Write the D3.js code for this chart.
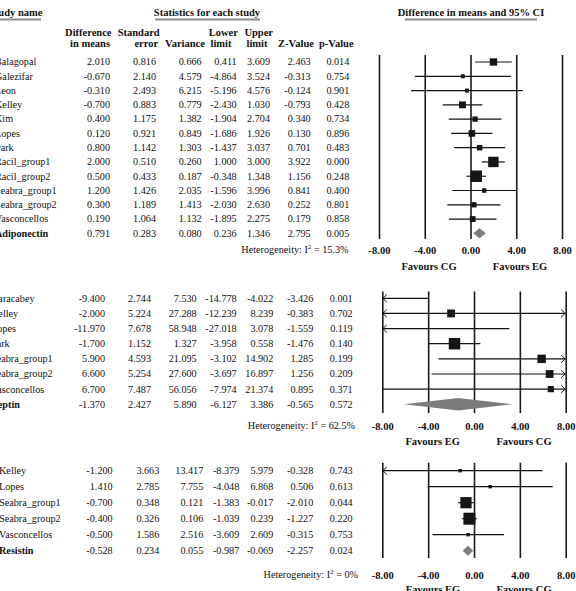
<!DOCTYPE html>
<html><head><meta charset="utf-8">
<script src="https://cdn.jsdelivr.net/npm/d3@7"></script>
<style>body{margin:0;background:#fff}svg{display:block}text{font-family:"Liberation Serif","Times New Roman",serif;fill:#111}</style>
</head><body>
<svg id="c" width="576" height="591"></svg>
<script>
// ---------- DATA ----------
const tickValues = [-8, -4, 0, 4, 8];
const columnHeads = [["Difference", "in means"], ["Standard", "error"], ["", "Variance"], ["Lower", "limit"], ["Upper", "limit"], ["", "Z-Value"], ["", "p-Value"]];

const adipoStudies = ["Balagopal", "Galezifar", "Leon", "Kelley", "Kim", "Lopes", "Park", "Racil_group1", "Racil_group2", "Seabra_group1", "Seabra_group2", "Vasconcellos"];
const adipoDiff  = [2.010, -0.670, -0.310, -0.700, 0.400, 0.120, 0.800, 2.000, 0.500, 1.200, 0.300, 0.190];
const adipoSE    = [0.816, 2.140, 2.493, 0.883, 1.175, 0.921, 1.142, 0.510, 0.433, 1.426, 1.189, 1.064];
const adipoVar   = [0.666, 4.579, 6.215, 0.779, 1.382, 0.849, 1.303, 0.260, 0.187, 2.035, 1.413, 1.132];
const adipoLower = [0.411, -4.864, -5.196, -2.430, -1.904, -1.686, -1.437, 1.000, -0.348, -1.596, -2.030, -1.895];
const adipoUpper = [3.609, 3.524, 4.576, 1.030, 2.704, 1.926, 3.037, 3.000, 1.348, 3.996, 2.630, 2.275];
const adipoZ     = [2.463, -0.313, -0.124, -0.793, 0.340, 0.130, 0.701, 3.922, 1.156, 0.841, 0.252, 0.179];
const adipoP     = [0.014, 0.754, 0.901, 0.428, 0.734, 0.896, 0.483, 0.000, 0.248, 0.400, 0.801, 0.858];
const adipoSummary = ["Adiponectin", 0.791, 0.283, 0.080, 0.236, 1.346, 2.795, 0.005];
const adipoI2 = "15.3%";
const adipoFavours = ["Favours CG", "Favours EG"];

const leptinStudies = ["Karacabey", "Kelley", "Lopes", "Park", "Seabra_group1", "Seabra_group2", "Vasconcellos"];
const leptinDiff  = [-9.400, -2.000, -11.970, -1.700, 5.900, 6.600, 6.700];
const leptinSE    = [2.744, 5.224, 7.678, 1.152, 4.593, 5.254, 7.487];
const leptinVar   = [7.530, 27.288, 58.948, 1.327, 21.095, 27.600, 56.056];
const leptinLower = [-14.778, -12.239, -27.018, -3.958, -3.102, -3.697, -7.974];
const leptinUpper = [-4.022, 8.239, 3.078, 0.558, 14.902, 16.897, 21.374];
const leptinZ     = [-3.426, -0.383, -1.559, -1.476, 1.285, 1.256, 0.895];
const leptinP     = [0.001, 0.702, 0.119, 0.140, 0.199, 0.209, 0.371];
const leptinSummary = ["Leptin", -1.370, 2.427, 5.890, -6.127, 3.386, -0.565, 0.572];
const leptinI2 = "62.5%";
const leptinFavours = ["Favours EG", "Favours CG"];

const resistStudies = ["Kelley", "Lopes", "Seabra_group1", "Seabra_group2", "Vasconcellos"];
const resistDiff  = [-1.200, 1.410, -0.700, -0.400, -0.500];
const resistSE    = [3.663, 2.785, 0.348, 0.326, 1.586];
const resistVar   = [13.417, 7.755, 0.121, 0.106, 2.516];
const resistLower = [-8.379, -4.048, -1.383, -1.039, -3.609];
const resistUpper = [5.979, 6.868, -0.017, 0.239, 2.609];
const resistZ     = [-0.328, 0.506, -2.010, -1.227, -0.315];
const resistP     = [0.743, 0.613, 0.044, 0.220, 0.753];
const resistSummary = ["Resistin", -0.528, 0.234, 0.055, -0.987, -0.069, -2.257, 0.024];
const resistI2 = "0%";
const resistFavours = ["Favours EG", "Favours CG"];

// ---------- DRAWING ----------
const svg = d3.select("#c");
const fmt3 = v => v.toFixed(3);
const fmt2 = v => v.toFixed(2);

// random-effects (DerSimonian-Laird) weights from the variances
function reWeights(vari, y) {
  const w = vari.map(v => 1 / v);
  const W = d3.sum(w);
  const m = d3.sum(w.map((wi, i) => wi * y[i])) / W;
  const Q = d3.sum(w.map((wi, i) => wi * (y[i] - m) ** 2));
  const C = W - d3.sum(w.map(a => a * a)) / W;
  const tau2 = Math.max(0, (Q - (w.length - 1)) / C);
  return vari.map(v => 1 / (v + tau2));
}

// headers
function header(txt, x, anchor, ulx0, ulx1) {
  svg.append("text").attr("x", x).attr("y", 15.5).attr("text-anchor", anchor)
    .attr("font-size", 10.5).attr("font-weight", "bold").text(txt);
  svg.append("line").attr("x1", ulx0).attr("x2", ulx1).attr("y1", 19.5).attr("y2", 19.5)
    .attr("stroke", "#8a8a8a").attr("stroke-width", 1.8);
}
header("Study name", -11, "start", -11, 41);
header("Statistics for each study", 207, "middle", 155, 260);
header("Difference in means and 95% CI", 471, "middle", 405, 537);

const headCenters = [[88.3, 90], [138.7, 146.3], [185, 185], [223.3, 221], [258.7, 257], [296, 296], [336.3, 336.3]];
columnHeads.forEach((h, j) => {
  h.forEach((t, k) => {
    if (!t) return;
    svg.append("text").attr("x", headCenters[j][k]).attr("y", 33 + k * 11).attr("dy", "0.33em")
      .attr("text-anchor", "middle").attr("font-size", 10.5).attr("font-weight", "bold").text(t);
  });
});

function drawPanel(cfg, d) {
  const n = d.names.length;
  const x = d3.scaleLinear().domain([-8, 8]).range([cfg.x0, cfg.x1]);
  const y = d3.scaleLinear().domain([0, n]).range([cfg.rowTop, cfg.rowTop + n * cfg.step]);
  const w = reWeights(d.vari, d.diff);
  const box = d3.scaleSqrt().domain([0, d3.max(w)]).range([0, cfg.maxBox]);
  const g = svg.append("g");

  // axis with full-height vertical lines
  const axis = d3.axisBottom(x).tickValues(tickValues).tickFormat(fmt2)
    .tickSize(-(cfg.gridBot - cfg.gridTop)).tickPadding(cfg.tickY - cfg.gridBot - 3.8);
  const ax = g.append("g").attr("transform", `translate(0,${cfg.gridBot})`).call(axis);
  ax.select(".domain").remove();
  ax.selectAll(".tick line").attr("stroke", "#1a1a1a").attr("stroke-width", 1.6);
  ax.selectAll(".tick text").attr("font-family", '"Liberation Serif",serif').attr("font-size", 10.5)
    .attr("font-weight", "bold").attr("fill", "#111");

  // columns
  const cols = [d.diff, d.se, d.vari, d.lower, d.upper, d.z, d.p];
  d.names.forEach((nm, i) => {
    g.append("text").attr("x", cfg.nameX).attr("y", y(i)).attr("dy", "0.33em")
      .attr("font-size", 10.2).text(nm);
    cols.forEach((c, j) => {
      g.append("text").attr("x", cfg.cols[j]).attr("y", y(i)).attr("dy", "0.33em")
        .attr("text-anchor", "end").attr("font-size", 10.2).text(fmt3(c[i]));
    });
  });
  // summary row
  g.append("text").attr("x", cfg.nameX).attr("y", y(n)).attr("dy", "0.33em")
    .attr("font-size", 10.2).attr("font-weight", "bold").text(d.summary[0]);
  d.summary.slice(1).forEach((v, j) => {
    g.append("text").attr("x", cfg.cols[j]).attr("y", y(n)).attr("dy", "0.33em")
      .attr("text-anchor", "end").attr("font-size", 10.2).text(fmt3(v));
  });

  // CI lines, arrows, boxes
  d.names.forEach((nm, i) => {
    const yy = y(i);
    const lo = Math.max(d.lower[i], -8), hi = Math.min(d.upper[i], 8);
    g.append("line").attr("x1", x(lo)).attr("x2", x(hi)).attr("y1", yy).attr("y2", yy)
      .attr("stroke", "#111").attr("stroke-width", 1.2);
    if (d.lower[i] < -8) {
      const ax0 = x(-8);
      g.append("path").attr("d", `M${ax0 + 4.5},${yy - 3.8}L${ax0 + 0.6},${yy}L${ax0 + 4.5},${yy + 3.8}`)
        .attr("fill", "none").attr("stroke", "#111").attr("stroke-width", 1);
    }
    if (d.upper[i] > 8) {
      const ax1 = x(8);
      g.append("path").attr("d", `M${ax1 - 4.5},${yy - 3.8}L${ax1 - 0.6},${yy}L${ax1 - 4.5},${yy + 3.8}`)
        .attr("fill", "none").attr("stroke", "#111").attr("stroke-width", 1);
    }
    if (d.diff[i] >= -8 && d.diff[i] <= 8) {
      const s = Math.max(cfg.minBox, box(w[i]));
      g.append("rect").attr("x", x(d.diff[i]) - s / 2).attr("y", yy - s / 2)
        .attr("width", s).attr("height", s).attr("fill", "#151515");
    }
  });

  // summary diamond
  const ys = y(n), h = cfg.diamondH / 2;
  const s = d.summary;
  g.append("path")
    .attr("d", `M${x(s[4])},${ys}L${x(s[1])},${ys - h}L${x(s[5])},${ys}L${x(s[1])},${ys + h}Z`)
    .attr("fill", "#7c7c7c");

  // heterogeneity
  const ht = g.append("text").attr("x", cfg.hetRight).attr("y", cfg.tickY).attr("dy", "0.33em")
    .attr("text-anchor", "end").attr("font-size", 10.2);
  ht.append("tspan").text("Heterogeneity: I");
  ht.append("tspan").attr("dy", -4).attr("font-size", 7).text("2");
  ht.append("tspan").attr("dy", 4).text(" = " + d.i2);

  // favours labels
  d.favours.forEach((t, k) => {
    g.append("text").attr("x", cfg.favX[k]).attr("y", cfg.favY).attr("dy", "0.33em")
      .attr("text-anchor", "middle").attr("font-size", 10.5).attr("font-weight", "bold").text(t);
  });
}

drawPanel({x0: 379, x1: 562, rowTop: 62, step: 14.28, gridTop: 55, gridBot: 239, tickY: 250, favY: 267,
  hetRight: 348.5, nameX: -5, cols: [110, 156, 201.7, 236.7, 270, 310.7, 349.3], favX: [429, 520],
  maxBox: 11.5, minBox: 4, diamondH: 10},
  {names: adipoStudies, diff: adipoDiff, se: adipoSE, vari: adipoVar, lower: adipoLower, upper: adipoUpper,
   z: adipoZ, p: adipoP, summary: adipoSummary, i2: adipoI2, favours: adipoFavours});

drawPanel({x0: 382.3, x1: 565.7, rowTop: 298.3, step: 15.14, gridTop: 291.5, gridBot: 413, tickY: 426, favY: 442,
  hetRight: 355, nameX: -9, cols: [105, 151, 196.7, 236.7, 273.3, 313.3, 352.7], favX: [432.7, 524],
  maxBox: 11.5, minBox: 4, diamondH: 12.5},
  {names: leptinStudies, diff: leptinDiff, se: leptinSE, vari: leptinVar, lower: leptinLower, upper: leptinUpper,
   z: leptinZ, p: leptinP, summary: leptinSummary, i2: leptinI2, favours: leptinFavours});

drawPanel({x0: 382.3, x1: 565.7, rowTop: 470.7, step: 16, gridTop: 462.7, gridBot: 558, tickY: 575, favY: 590,
  hetRight: 358, nameX: -1, cols: [112.7, 159.3, 203.3, 239.3, 273.3, 313.3, 352.7], favX: [433, 524],
  maxBox: 12, minBox: 3.4, diamondH: 10},
  {names: resistStudies, diff: resistDiff, se: resistSE, vari: resistVar, lower: resistLower, upper: resistUpper,
   z: resistZ, p: resistP, summary: resistSummary, i2: resistI2, favours: resistFavours});
</script>
</body></html>
